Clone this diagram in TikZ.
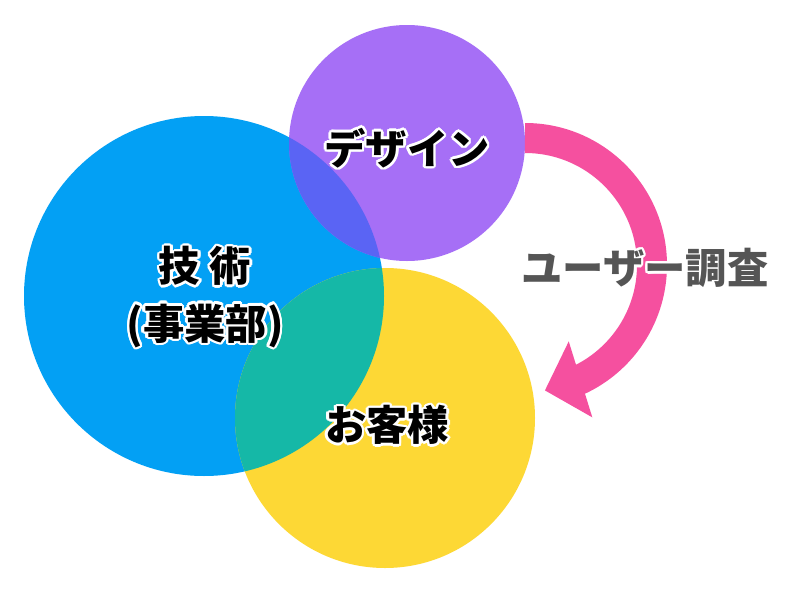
\documentclass[tikz,border=0pt]{standalone}
\usepackage{fontspec}
\newfontfamily\jpfont{Noto Sans CJK JP}
\usetikzlibrary{arrows.meta,bending}

\definecolor{gijutsu}{HTML}{03A0F4}
\definecolor{design}{HTML}{A66FF6}
\definecolor{kyaku}{HTML}{FDD835}
\definecolor{gijdes}{HTML}{5A64F4}
\definecolor{gijkya}{HTML}{15B8A7}
\definecolor{chosa}{HTML}{F5509F}
\definecolor{chosatext}{HTML}{555555}

\tikzset{
  lbltext/.style={font=\jpfont\bfseries\fontsize{31}{43}\selectfont, align=center, inner sep=0pt}
}

% white halo behind a label, then the label itself
\newcommand{\halolabel}[4]{%
  \foreach \ang in {0,22.5,...,337.5}{
    \node[lbltext, text=white] at ([shift={(\ang:1.8pt)}]#2) {#4};
  }
  \node[lbltext, text=#3] (#1) at (#2) {#4};
}

\begin{document}
\begin{tikzpicture}[x=0.75pt, y=-0.75pt]
    \fill[white] (0,0) rectangle (800,600);
    \useasboundingbox (0,0) rectangle (800,600);

    % 三つの円
    \fill[gijutsu] (204,296) circle (135pt);
    \fill[design] (407,143) circle (88.5pt);
    \fill[kyaku] (385,418) circle (112.5pt);

    % 重なり
    \begin{scope}
        \clip (204,296) circle (135pt);
        \fill[gijdes] (407,143) circle (88.5pt);
        \fill[gijkya] (385,418) circle (112.5pt);
    \end{scope}

    % ユーザー調査の矢印
    \draw[chosa, line width=22.5pt, -{Triangle[length=28pt, width=58pt, flex]}]
        (525,265) ++(-90:127) arc[start angle=-90, end angle=81, radius=127];

    % ラベル
    \halolabel{design}{407,148}{black}{デザイン}
    \halolabel{gijutsu}{205,297}{black}{技 術\\(事業部)}
    \halolabel{kyaku}{387,425}{black}{お客様}
    \halolabel{chosa}{645,268}{chosatext}{ユーザー調査}
\end{tikzpicture}
\end{document}
